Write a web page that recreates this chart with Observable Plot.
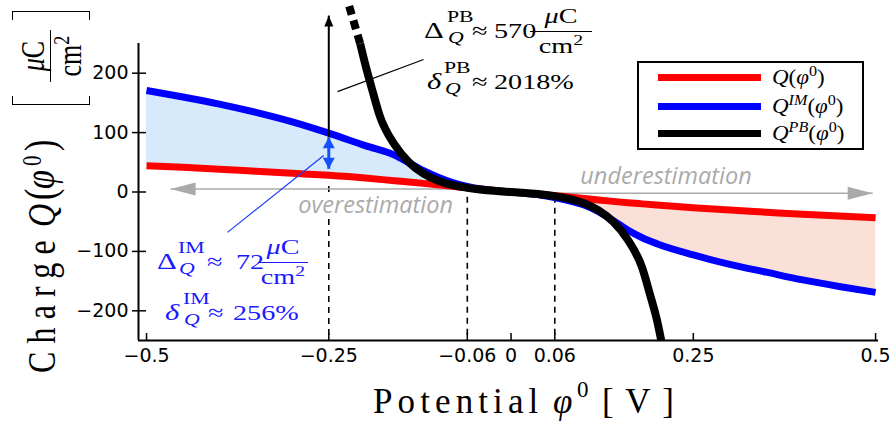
<!DOCTYPE html>
<html><head><meta charset="utf-8">
<script src="https://cdn.jsdelivr.net/npm/d3@7"></script>
<script src="https://cdn.jsdelivr.net/npm/@observablehq/plot@0.6"></script>
<style>
body{margin:0;background:#fff;}
#wrap{position:relative;width:893px;height:432px;overflow:hidden;background:#fff;}
#wrap svg{position:absolute;left:0;top:0;overflow:visible;}
.ov{position:absolute;white-space:nowrap;font-family:"Liberation Serif","DejaVu Serif",serif;color:#000;}
.bar{position:absolute;}
#legend{position:absolute;left:637px;top:61px;width:223px;height:85px;border:2px solid #000;background:#fff;}
.sw{position:absolute;left:19px;width:103px;height:7px;}
</style></head><body><div id="wrap"></div>
<script>
// ---- data ----
const phi  = [-0.5,-0.45,-0.4,-0.35,-0.3,-0.25,-0.2,-0.16,-0.14,-0.12,-0.1,-0.08,-0.06,-0.04,-0.02,0,
              0.02,0.04,0.06,0.08,0.1,0.12,0.14,0.16,0.18,0.2,0.25,0.3,0.35,0.4,0.45,0.5];
const qRed = [44,41.5,38.5,35,31.5,28,23.5,19,16.8,14.5,12,9.5,7,4.7,2.3,0,
              -2,-4,-6,-8.5,-11,-13.5,-15.8,-18,-20,-22,-26.5,-30.5,-34,-37.5,-40.5,-43.5];
const qIM  = [171,160,148,134,118,99,78,62,49,36,25,16,9.5,5,2.2,0,
              -2.2,-5,-9.5,-15,-22,-33,-48,-64,-77,-87,-106,-122,-135,-148,-159,-169];
const phiPB = [-0.207,-0.2,-0.19,-0.18,-0.16,-0.14,-0.12,-0.1,-0.08,-0.06,-0.04,-0.02,0,
               0.02,0.04,0.06,0.08,0.1,0.12,0.14,0.16,0.18,0.19,0.2,0.206];
const qPB   = [250,215,170,128,80,50,31,19,11.5,7,3.8,1.7,0,
               -1.7,-3.8,-7,-11.5,-19,-31,-50,-80,-128,-170,-215,-250];
const phiPBout = [-0.207,-0.223];
const qPBout   = [250,317];
const xTicks = [-0.5,-0.25,-0.06,0,0.06,0.25,0.5];
const yTicks = [-200,-100,0,100,200];
const xDomain = [-0.511,0.504];
const yDomain = [-250,250];
// annotation anchors
const dashed = [{x:-0.25,y1:10,y2:-250},{x:-0.06,y1:-8,y2:-250},{x:0.06,y1:-8,y2:-250}];
const grayArrows = [{x1:-0.064,x2:-0.467,y:5,dir:270},{x1:0.06,x2:0.496,y:-2,dir:90}];
const labels = [{text:"overestimation",x:-0.292,y:-23},{text:"underestimation",x:0.095,y:25.5}];
const pbArrow = {x:-0.25,y1:92,y2:297};
const imArrow = {x:-0.25,y1:39,y2:92};
const leaders = [{x1:-0.238,y1:169,x2:-0.12,y2:223,c:"#000"},{x1:-0.389,y1:-68,x2:-0.257,y2:61.4,c:"#1a3cff"}];

const rows = phi.map((x,i)=>({x,red:qRed[i],im:qIM[i]}));
const pb = phiPB.map((x,i)=>({x,y:qPB[i]}));
const pbOut = phiPBout.map((x,i)=>({x,y:qPBout[i]}));

function head(L,W){return {draw(ctx){ctx.moveTo(0,0);ctx.lineTo(-W/2,L);ctx.lineTo(W/2,L);ctx.closePath();}};}
const fmtX = d => d===0 ? "0" : (d<0?"\u2212":"")+String(Math.abs(d));
const fmtY = d => (d<0?"\u2212":"")+String(Math.abs(d));

const chart = Plot.plot({
  width:893,height:432,
  marginLeft:138,marginRight:15,marginTop:43,marginBottom:92,
  x:{domain:xDomain,label:null},
  y:{domain:yDomain,label:null},
  style:{background:"transparent",color:"#000",fontFamily:"DejaVu Sans"},
  marks:[
    Plot.areaY(rows.filter(d=>d.x<=0),{x:"x",y1:"red",y2:"im",fill:"#d6eafb",curve:"monotone-x"}),
    Plot.areaY(rows.filter(d=>d.x>=0),{x:"x",y1:"red",y2:"im",fill:"#fae0d7",curve:"monotone-x"}),
    Plot.link(dashed,{x1:"x",x2:"x",y1:"y1",y2:"y2",stroke:"#000",strokeWidth:1.6,strokeDasharray:"6,5"}),
    Plot.text(labels,{x:"x",y:"y",text:"text",textAnchor:"start",fontFamily:"Open Sans",fontStyle:"italic",fontSize:23.5,fill:"#aaaaaa",stroke:"#fff",strokeWidth:10}),
    Plot.link(grayArrows,{x1:"x1",x2:"x2",y1:"y",y2:"y",stroke:"#aaaaaa",strokeWidth:1.5}),
    Plot.dot(grayArrows.filter(d=>d.dir===270),{x:"x2",y:"y",symbol:head(25,13),rotate:270,fill:"#aaaaaa"}),
    Plot.dot(grayArrows.filter(d=>d.dir===90),{x:"x2",y:"y",symbol:head(25,13),rotate:90,fill:"#aaaaaa"}),
    Plot.line(rows,{x:"x",y:"im",stroke:"#0000ff",strokeWidth:7,curve:"monotone-x",strokeLinecap:"butt"}),
    Plot.line(rows,{x:"x",y:"red",stroke:"#ff0000",strokeWidth:7,curve:"monotone-x",strokeLinecap:"butt"}),
    Plot.line(pb,{x:"x",y:"y",stroke:"#000",strokeWidth:8,curve:"monotone-x",strokeLinecap:"butt"}),
    Plot.line(pbOut,{x:"x",y:"y",stroke:"#000",strokeWidth:8,strokeDasharray:"9,6",strokeLinecap:"butt"}),
    Plot.link(leaders,{x1:"x1",y1:"y1",x2:"x2",y2:"y2",stroke:"c",strokeWidth:1.2}),
    Plot.link([pbArrow],{x1:"x",x2:"x",y1:"y1",y2:"y2",stroke:"#000",strokeWidth:2}),
    Plot.dot([pbArrow],{x:"x",y:"y2",symbol:head(11,9),rotate:0,fill:"#000"}),
    Plot.link([imArrow],{x1:"x",x2:"x",y1:"y1",y2:"y2",stroke:"#1450ff",strokeWidth:3}),
    Plot.dot([imArrow],{x:"x",y:"y2",symbol:head(11,12),rotate:0,fill:"#1450ff"}),
    Plot.dot([imArrow],{x:"x",y:"y1",symbol:head(11,12),rotate:180,fill:"#1450ff"}),
    Plot.ruleX([xDomain[0]],{strokeWidth:2}),
    Plot.ruleY([yDomain[0]],{strokeWidth:2}),
    Plot.ruleX(xTicks,{insetTop:290,strokeWidth:1.5}),
    Plot.ruleY(yTicks,{insetRight:732,strokeWidth:1.5}),
    Plot.axisX(xTicks,{tickSize:0,tickPadding:8,tickFormat:fmtX,fontSize:19,label:null}),
    Plot.axisY(yTicks,{tickSize:6,tickPadding:4,tickFormat:fmtY,fontSize:19,label:null,strokeWidth:1.5})
  ]
});
const wrap = document.getElementById("wrap");
wrap.appendChild(chart);

// ---- overlays (math text) ----
const S = 1.28;
const ASC = 0.8375;
function put(html,x,base,size,color,anchor){
  const d=document.createElement("div");d.className="ov";d.innerHTML=html;
  d.style.fontSize=size+"px";d.style.lineHeight=size+"px";
  d.style.left=x+"px";d.style.top=(base-ASC*size)+"px";
  if(color)d.style.color=color;
  if(anchor==="middle"){d.style.transform=`translateX(-50%) scaleX(${S})`;}
  else{d.style.transformOrigin="0 0";d.style.transform=`scaleX(${S})`;}
  wrap.appendChild(d);return d;
}
function bar(x1,x2,y,color){
  const d=document.createElement("div");d.className="bar";
  d.style.left=x1+"px";d.style.width=(x2-x1)+"px";d.style.top=y+"px";
  d.style.height="1.3px";d.style.background=color;wrap.appendChild(d);
}
function mathBlock(c,sup,l1,l2,val1,val2,frac){
  put("\u0394",l1.x,l1.b,24,c);
  put(sup,l1.sx,l1.b-16,17,c);
  put("<i>Q</i>",l1.sx+1,l1.b+5,17,c);
  put("\u2248",l1.ax,l1.b,22,c);
  put(val1,l1.vx,l1.b,22,c);
  put("<i>\u03bc</i>C",frac.cx,l1.b-15,22,c,"middle");
  bar(frac.x1,frac.x2,l1.b-7,c);
  put("cm<sup style='line-height:0;font-size:0.7em'>2</sup>",frac.cx,l1.b+15,22,c,"middle");
  put("<i>\u03b4</i>",l2.x,l2.b,24,c);
  put(sup,l2.sx,l2.b-16,17,c);
  put("<i>Q</i>",l2.sx+1,l2.b+5,17,c);
  put("\u2248",l2.ax,l2.b,22,c);
  put(val2,l2.vx,l2.b,22,c);
}
mathBlock("#000","PB",{x:424,sx:447,ax:472,vx:494,b:38},{x:427,sx:444,ax:472,vx:494,b:89},"570","2018%",{cx:561,x1:530,x2:592});
mathBlock("#1a1aff","IM",{x:157,sx:178,ax:207,vx:236,b:269},{x:165,sx:183,ax:208,vx:233,b:320},"72","256%",{cx:283,x1:258,x2:308});

// fit letter spacing so a piece spans a given width (un-transformed)
function fit(el,W){el.style.letterSpacing="0px";const w0=el.offsetWidth;const n=el.textContent.length;el.style.letterSpacing=((W-w0)/n)+"px";}

// x-axis title pieces
function hx(html,x,base,size,W){
  const d=document.createElement("div");d.className="ov";d.innerHTML=html;
  d.style.fontSize=size+"px";d.style.lineHeight=size+"px";d.style.left=x+"px";d.style.top=(base-ASC*size)+"px";
  wrap.appendChild(d);if(W)fit(d,W);return d;
}
hx("Potential",373,413,35,170);
hx("<i>\u03c6</i>",553,413,35);
hx("0",577,397,23);
hx("[V]",602,413,35,84);

// y-axis title pieces (rotated, reading upward)
const SY=1.28;
function vy(html,startY,baseX,size,opts={}){
  const d=document.createElement("div");d.className="ov";d.innerHTML=html;
  d.style.fontSize=size+"px";d.style.lineHeight=size+"px";
  d.style.left=(baseX-SY*ASC*size)+"px";d.style.top=startY+"px";
  d.style.transformOrigin="0 0";
  wrap.appendChild(d);
  if(opts.W)fit(d,opts.W);
  d.style.transform=`rotate(-90deg) scaleY(${SY})`+(opts.center?" translateX(-50%)":"");
  return d;
}
vy("Charge",373,54,32,{W:141});
vy("<i>Q</i>",227,54,32);
vy("(",200,55,34);
vy("<i>\u03c6</i>",189,54,34);
vy("0",166,42,21);
vy(")",151,55,34);
vy("<i>\u03bc</i>C",56,45,26,{center:true});
vy("cm<sup style='line-height:0;font-size:0.7em'>2</sup>",56,82,26,{center:true});
// fraction bar and tall brackets
function box(l,t,w,h,css){const d=document.createElement("div");d.style.cssText=`position:absolute;left:${l}px;top:${t}px;width:${w}px;height:${h}px;`+css;wrap.appendChild(d);}
box(50,30,1.3,52,"background:#000");
box(12,96,78,9,"border:1.6px solid #000;border-top:none;box-sizing:border-box;");
box(12,11,78,9,"border:1.6px solid #000;border-bottom:none;box-sizing:border-box;");

// legend
const lg=document.createElement("div");lg.id="legend";
const items=[["#ff0000","<i>Q</i>(<i>\u03c6</i><sup style='font-size:0.7em;line-height:0'>0</sup>)"],
             ["#0000ff","<i>Q</i><sup style='font-size:0.7em;line-height:0'><i>IM</i></sup>(<i>\u03c6</i><sup style='font-size:0.7em;line-height:0'>0</sup>)"],
             ["#000000","<i>Q</i><sup style='font-size:0.7em;line-height:0'><i>PB</i></sup>(<i>\u03c6</i><sup style='font-size:0.7em;line-height:0'>0</sup>)"]];
const cy=[14,43,70];
items.forEach((it,i)=>{
  const s=document.createElement("div");s.className="sw";s.style.background=it[0];s.style.top=(cy[i]-3.5)+"px";lg.appendChild(s);
  const t=document.createElement("div");t.className="ov";t.innerHTML=it[1];
  t.style.left="133px";t.style.fontSize="20px";t.style.lineHeight="20px";t.style.top=(cy[i]+7-ASC*20)+"px";
  t.style.transformOrigin="0 0";t.style.transform="scaleX(1.15)";
  lg.appendChild(t);
});
wrap.appendChild(lg);
</script>
</body></html>
